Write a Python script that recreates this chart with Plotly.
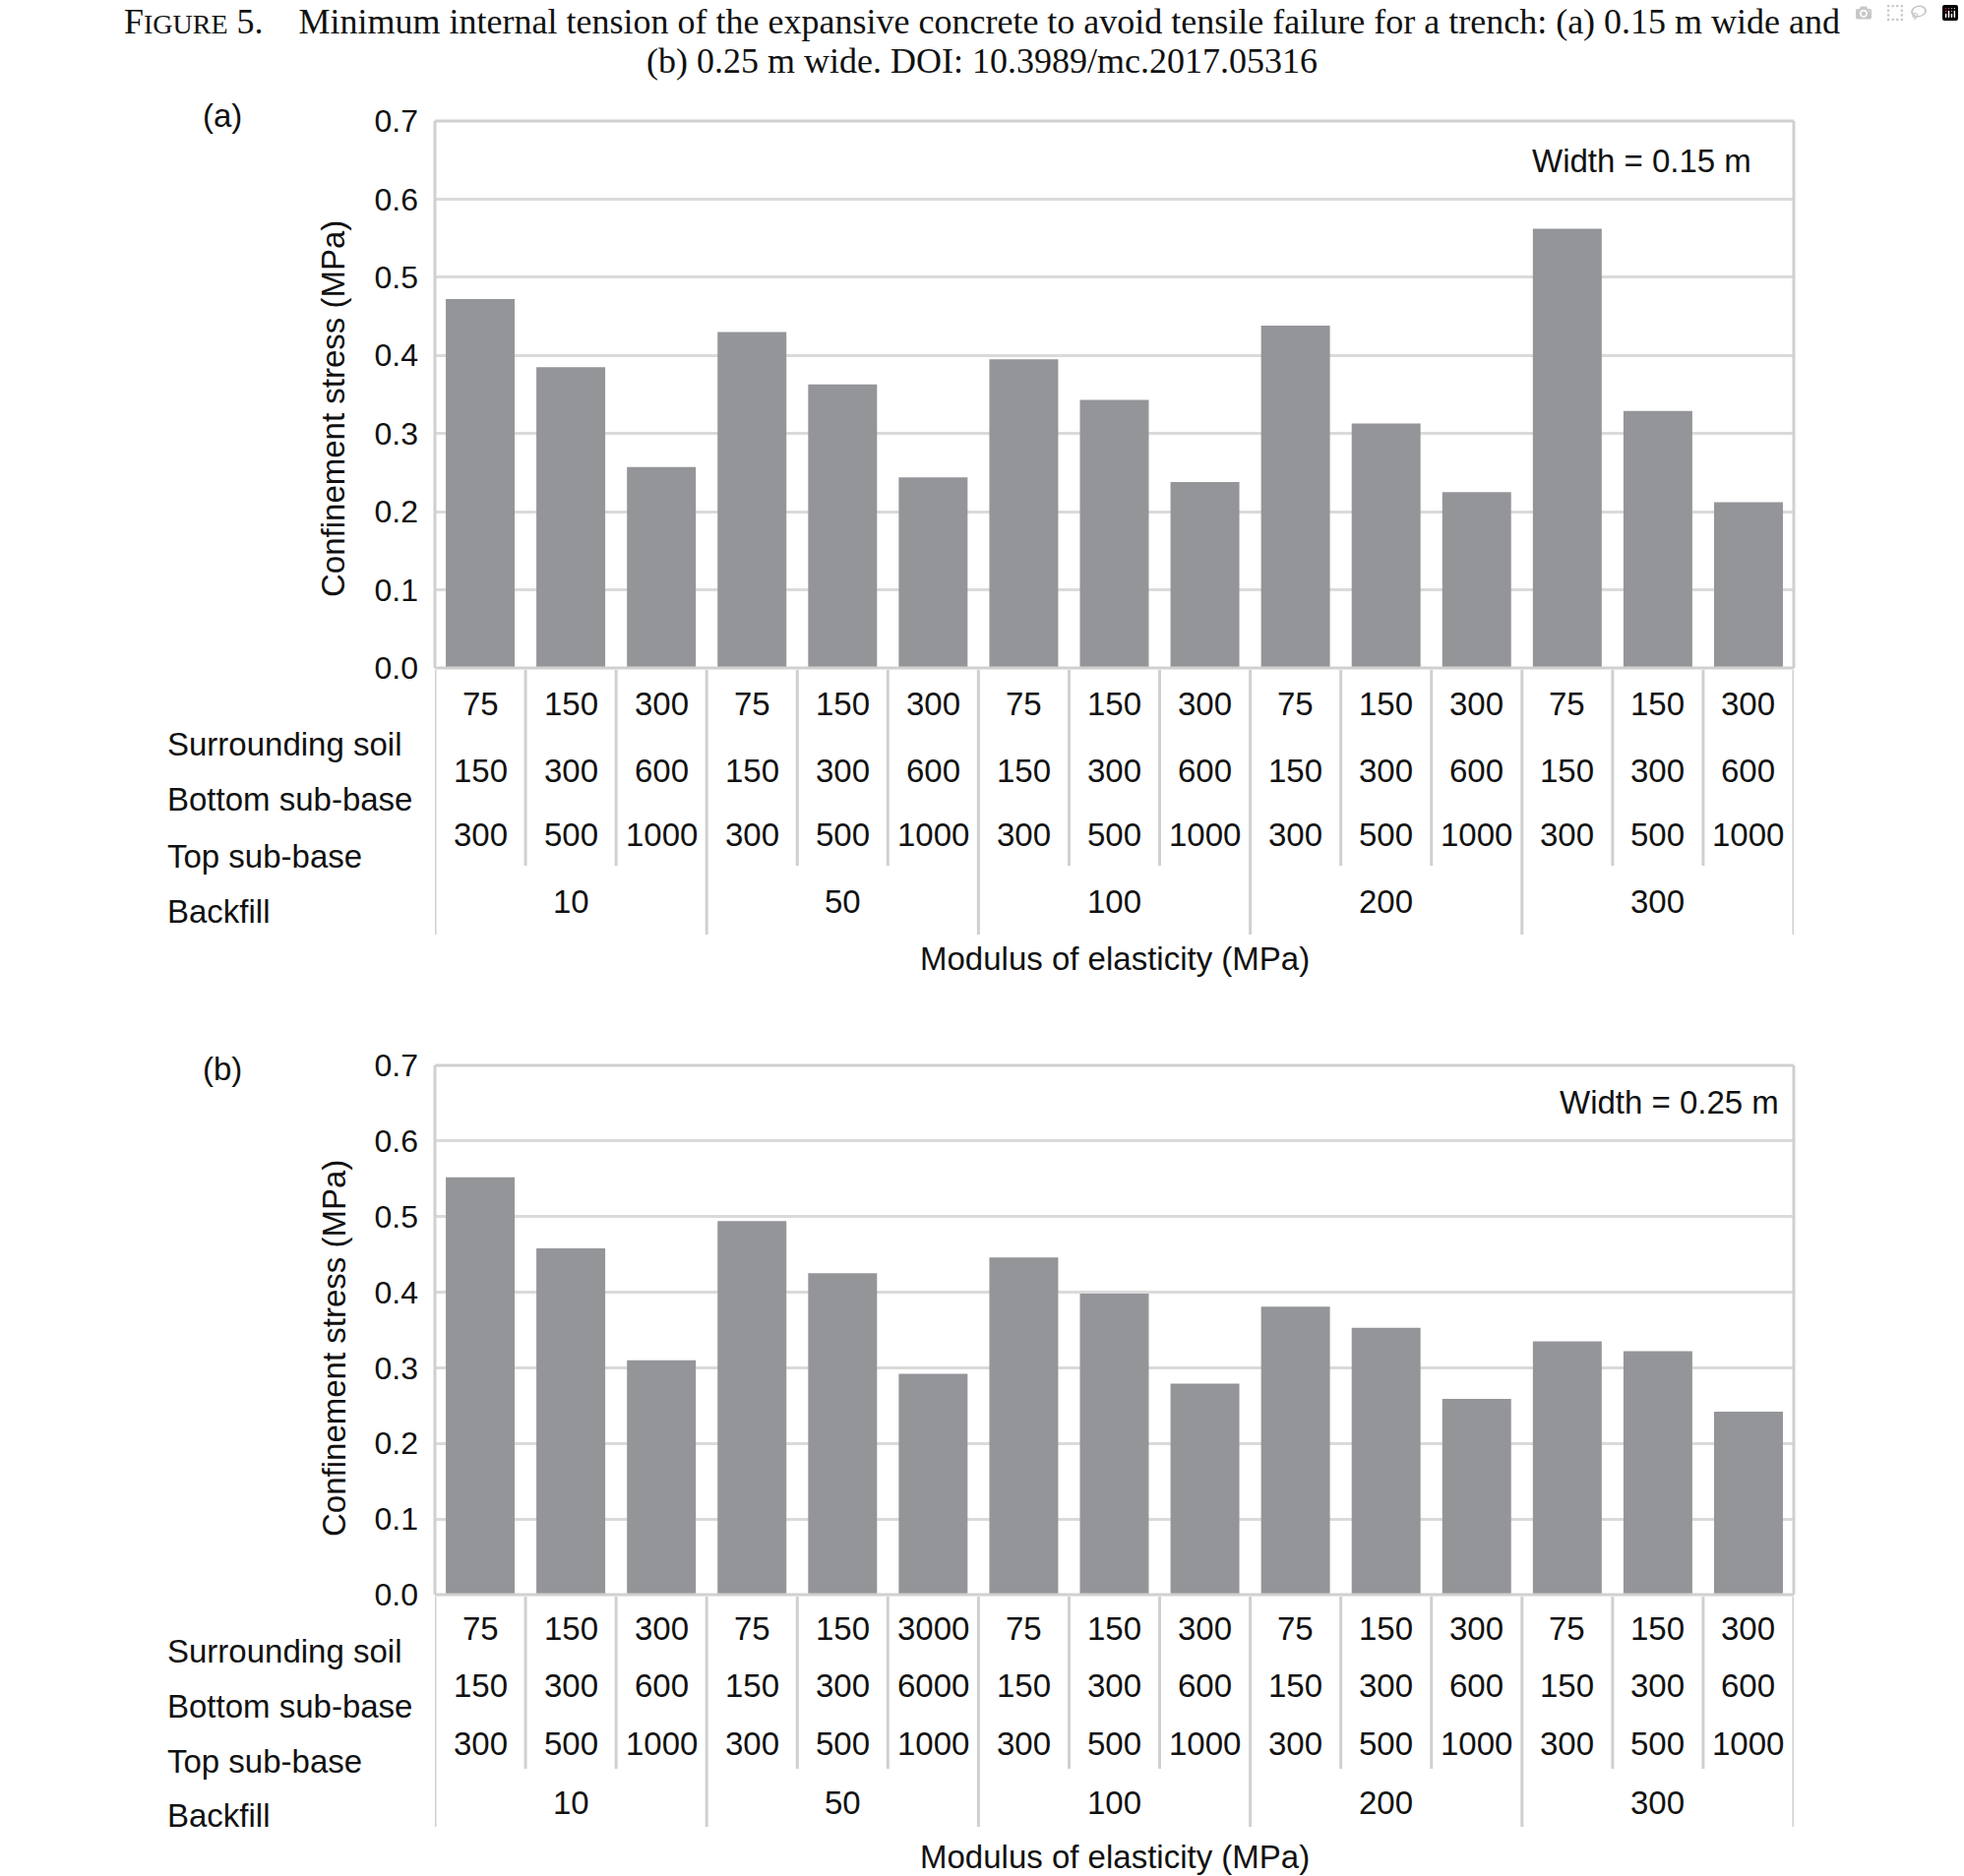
import plotly.graph_objects as go

# ---------------- data ----------------
surrounding_soil = ["75", "150", "300"] * 5
bottom_subbase_a = ["150", "300", "600"] * 5
bottom_subbase_b = ["150", "300", "600", "150", "300", "6000", "150", "300", "600",
                    "150", "300", "600", "150", "300", "600"]
surrounding_soil_b = ["75", "150", "300", "75", "150", "3000", "75", "150", "300",
                      "75", "150", "300", "75", "150", "300"]
top_subbase = ["300", "500", "1000"] * 5
backfill = ["10", "50", "100", "200", "300"]

stress_a = [0.472, 0.385, 0.257, 0.430, 0.363, 0.244, 0.395, 0.343, 0.238,
            0.438, 0.313, 0.225, 0.562, 0.329, 0.212]
stress_b = [0.552, 0.458, 0.310, 0.494, 0.425, 0.292, 0.446, 0.398, 0.279,
            0.381, 0.353, 0.259, 0.335, 0.322, 0.242]

row_names = ["Surrounding soil", "Bottom sub-base", "Top sub-base", "Backfill"]

# ---------------- layout helpers ----------------
W, H = 1996, 1907
def py(p):
    return 1 - p / H
def px(p):
    return p / W

X0, X1 = 442, 1823
BAR = "#949599"
GRID = "#dadada"
LINE = "#d0d0d0"
FONT = "Liberation Sans, Arial, Helvetica, sans-serif"
FS = 33

panels = [
    dict(name="a", vals=stress_a, soil=surrounding_soil, bottom=bottom_subbase_a,
         top=123, bot=679, rows=[716, 784, 848, 916], lrows=[756, 812, 870, 927],
         inner_bot=880, group_bot=950, mod_y=974, yt_y=416, lab_y=117,
         wtxt="Width = 0.15 m", w_y=163, w_r=1782),
    dict(name="b", vals=stress_b, soil=surrounding_soil_b, bottom=bottom_subbase_b,
         top=1083, bot=1621, rows=[1655, 1713, 1772, 1832], lrows=[1678, 1734, 1790, 1845],
         inner_bot=1798, group_bot=1857, mod_y=1887, yt_y=1371, lab_y=1086,
         wtxt="Width = 0.25 m", w_y=1120, w_r=1810),
]

fig = go.Figure()
annotations = []
shapes = []

for k, p in enumerate(panels):
    xa = "x" if k == 0 else "x2"
    ya = "y" if k == 0 else "y2"
    n = len(p["vals"])
    fig.add_trace(go.Bar(x=list(range(n)), y=p["vals"], marker_color=BAR,
                         marker_line_width=0, width=0.76, xaxis=xa, yaxis=ya,
                         showlegend=False, hoverinfo="y"))
    dom_y = [py(p["bot"]), py(p["top"])]
    ax_x = dict(domain=[px(X0), px(X1)], range=[-0.5, n - 0.5], showticklabels=False,
                showgrid=False, zeroline=False, showline=False, fixedrange=True,
                anchor=ya, automargin=False)
    ax_y = dict(domain=dom_y, range=[0, 0.7], dtick=0.1, tick0=0, tickformat=".1f",
                showgrid=True, gridcolor=GRID, gridwidth=3, zeroline=False,
                showline=False, ticks="", ticklabelstandoff=16, automargin=False,
                tickfont=dict(family=FONT, size=32, color="#111"), anchor=xa,
                fixedrange=True)
    if k == 0:
        fig.update_layout(xaxis=ax_x, yaxis=ax_y)
    else:
        fig.update_layout(xaxis2=ax_x, yaxis2=ax_y)

    # plot frame (top, bottom, right, left)
    for (xx0, xx1, yy0, yy1) in [(X0, X1, p["top"], p["top"]), (X0, X1, p["bot"], p["bot"]),
                                 (X1, X1, p["top"], p["bot"]), (X0, X0, p["top"], p["bot"])]:
        shapes.append(dict(type="line", xref="paper", yref="paper", x0=px(xx0), x1=px(xx1),
                           y0=py(yy0), y1=py(yy1), line=dict(color=LINE, width=3)))
    # category table dividers
    for j in range(n + 1):
        yb = p["group_bot"] if j % 3 == 0 else p["inner_bot"]
        shapes.append(dict(type="line", xref=xa, yref="paper", x0=j - 0.5, x1=j - 0.5,
                           y0=py(p["bot"] + 2), y1=py(yb), line=dict(color=LINE, width=3)))
    for i in range(n):
        for r, lst in enumerate([p["soil"], p["bottom"], top_subbase]):
            annotations.append(dict(x=i, y=py(p["rows"][r]), xref=xa, yref="paper",
                                    text=lst[i], showarrow=False, xanchor="center",
                                    yanchor="middle", font=dict(family=FONT, size=FS, color="#111")))
    for g, lab in enumerate(backfill):
        annotations.append(dict(x=3 * g + 1, y=py(p["rows"][3]), xref=xa, yref="paper",
                                text=lab, showarrow=False, xanchor="center", yanchor="middle",
                                font=dict(family=FONT, size=FS, color="#111")))
    for r, nm in enumerate(row_names):
        annotations.append(dict(x=px(168), y=py(p["lrows"][r]), xref="paper", yref="paper",
                                text=nm, showarrow=False, xanchor="left", yanchor="middle",
                                font=dict(family=FONT, size=FS, color="#111")))
    annotations.append(dict(x=px((X0 + X1) / 2), y=py(p["mod_y"]), xref="paper", yref="paper",
                            text="Modulus of elasticity (MPa)", showarrow=False,
                            xanchor="center", yanchor="middle",
                            font=dict(family=FONT, size=FS, color="#111")))
    annotations.append(dict(x=px(339), y=py(p["yt_y"]), xref="paper", yref="paper",
                            text="Confinement stress (MPa)", textangle=-90, showarrow=False,
                            xanchor="center", yanchor="middle",
                            font=dict(family=FONT, size=FS, color="#111")))
    annotations.append(dict(x=px(204), y=py(p["lab_y"]), xref="paper", yref="paper",
                            text="(" + p["name"] + ")", showarrow=False, xanchor="left",
                            yanchor="middle", font=dict(family=FONT, size=FS, color="#111")))
    annotations.append(dict(x=px(p["w_r"]), y=py(p["w_y"]), xref="paper", yref="paper",
                            text=p["wtxt"], showarrow=False, xanchor="right", yanchor="middle",
                            font=dict(family=FONT, size=FS, color="#111")))

SERIF = "Liberation Serif, Times New Roman, serif"
annotations.append(dict(x=0.5, y=py(22), xref="paper", yref="paper", showarrow=False,
                        xanchor="center", yanchor="middle",
                        text="F<span style='font-size:28px'>IGURE</span> 5.&nbsp;&nbsp;&nbsp; Minimum internal tension of the expansive concrete to avoid tensile failure for a trench: (a) 0.15 m wide and",
                        font=dict(family=SERIF, size=36, color="#111")))
annotations.append(dict(x=0.5, y=py(62), xref="paper", yref="paper", showarrow=False,
                        xanchor="center", yanchor="middle",
                        text="(b) 0.25 m wide. DOI: 10.3989/mc.2017.05316",
                        font=dict(family=SERIF, size=36, color="#111")))

fig.update_layout(width=W, height=H,
                  margin=dict(l=0, r=0, t=0, b=0, pad=0, autoexpand=False),
                  paper_bgcolor="white", plot_bgcolor="white", bargap=0.24,
                  annotations=annotations, shapes=shapes)

fig.write_html("out.html", post_script="document.body.style.margin='0';")
